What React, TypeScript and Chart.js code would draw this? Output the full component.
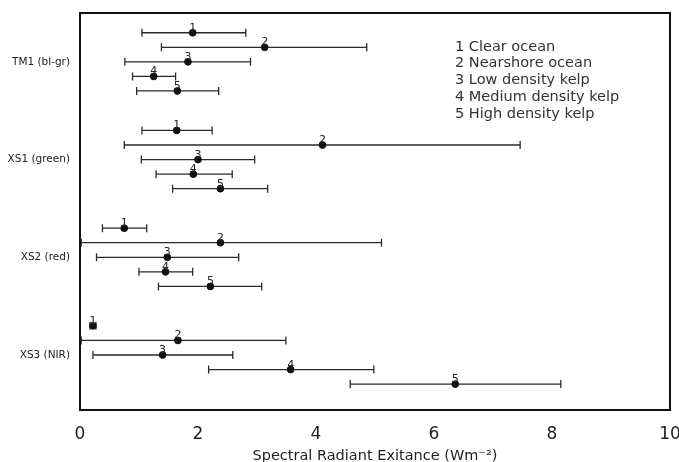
import { useEffect, useRef } from "react";
import { Chart, registerables } from "chart.js";

Chart.register(...registerables);

const bands = ["TM1 (bl-gr)", "XS1 (green)", "XS2 (red)", "XS3 (NIR)"];
const classNames = ["Clear ocean", "Nearshore ocean", "Low density kelp", "Medium density kelp", "High density kelp"];

// per class, values for each band (TM1, XS1, XS2, XS3)
const clearMean = [1.91, 1.64, 0.75, 0.22];
const clearLow = [1.05, 1.05, 0.38, 0.17];
const clearHigh = [2.81, 2.24, 1.13, 0.27];

const nearshoreMean = [3.13, 4.11, 2.38, 1.66];
const nearshoreLow = [1.38, 0.75, 0.02, 0.02];
const nearshoreHigh = [4.86, 7.46, 5.11, 3.49];

const lowKelpMean = [1.83, 2.0, 1.48, 1.4];
const lowKelpLow = [0.76, 1.04, 0.28, 0.22];
const lowKelpHigh = [2.89, 2.96, 2.69, 2.59];

const medKelpMean = [1.25, 1.92, 1.45, 3.57];
const medKelpLow = [0.89, 1.29, 1.0, 2.18];
const medKelpHigh = [1.62, 2.58, 1.91, 4.98];

const highKelpMean = [1.65, 2.38, 2.21, 6.36];
const highKelpLow = [0.96, 1.57, 1.33, 4.58];
const highKelpHigh = [2.35, 3.18, 3.08, 8.15];

const xTicks = [0, 2, 4, 6, 8, 10];

const means = [clearMean, nearshoreMean, lowKelpMean, medKelpMean, highKelpMean];
const lows = [clearLow, nearshoreLow, lowKelpLow, medKelpLow, highKelpLow];
const highs = [clearHigh, nearshoreHigh, lowKelpHigh, medKelpHigh, highKelpHigh];

const ROW = 0.149; // spacing between class rows inside a band group
const FONT = "'DejaVu Sans', sans-serif";

export default function App() {
  const ref = useRef<HTMLCanvasElement | null>(null);

  useEffect(() => {
    if (!ref.current) return;

    const errorBars = {
      id: "errorBars",
      beforeDatasetsDraw(chart: any) {
        const ctx = chart.ctx;
        const xs = chart.scales.x;
        ctx.save();
        ctx.strokeStyle = "#2a2a2a";
        ctx.lineWidth = 1.3;
        chart.data.datasets.forEach((_: any, c: number) => {
          const meta = chart.getDatasetMeta(c);
          meta.data.forEach((pt: any, i: number) => {
            const y = pt.y;
            const xl = xs.getPixelForValue(lows[c][i]);
            const xh = xs.getPixelForValue(highs[c][i]);
            ctx.beginPath();
            ctx.moveTo(xl, y);
            ctx.lineTo(xh, y);
            ctx.moveTo(xl, y - 4);
            ctx.lineTo(xl, y + 4);
            ctx.moveTo(xh, y - 4);
            ctx.lineTo(xh, y + 4);
            ctx.stroke();
          });
        });
        ctx.restore();
      },
      afterDatasetsDraw(chart: any) {
        const ctx = chart.ctx;
        const a = chart.chartArea;
        ctx.save();
        ctx.fillStyle = "#222";
        ctx.font = `11px ${FONT}`;
        ctx.textAlign = "center";
        ctx.textBaseline = "alphabetic";
        chart.data.datasets.forEach((_: any, c: number) => {
          const meta = chart.getDatasetMeta(c);
          meta.data.forEach((pt: any) => {
            ctx.fillText(String(c + 1), pt.x, pt.y - 2);
          });
        });
        // frame
        ctx.strokeStyle = "#111";
        ctx.lineWidth = 2;
        ctx.strokeRect(a.left, a.top, a.right - a.left, a.bottom - a.top);
        // legend
        ctx.fillStyle = "#333";
        ctx.font = `14.5px ${FONT}`;
        ctx.textAlign = "left";
        ctx.textBaseline = "middle";
        classNames.forEach((n, i) => {
          ctx.fillText(`${i + 1} ${n}`, 455, 47 + i * 16.7);
        });
        ctx.restore();
      },
    };

    const chart = new Chart(ref.current, {
      type: "scatter",
      data: {
        datasets: classNames.map((n, c) => ({
          label: n,
          data: bands.map((_, i) => ({ x: means[c][i], y: i + (c - 2) * ROW })),
          backgroundColor: "#111",
          borderColor: "#111",
          pointRadius: 3.4,
          pointHoverRadius: 3.4,
        })),
      },
      options: {
        responsive: false,
        animation: false,
        layout: { padding: { left: 0, top: 13, right: 9, bottom: 0 } },
        plugins: { legend: { display: false }, tooltip: { enabled: false } },
        scales: {
          x: {
            type: "linear",
            min: 0,
            max: 10,
            afterBuildTicks: (s: any) => {
              s.ticks = xTicks.map((v) => ({ value: v }));
            },
            grid: { display: false },
            border: { display: false },
            ticks: { color: "#222", padding: 6, font: { family: FONT, size: 17 } },
            title: {
              display: true,
              text: "Spectral Radiant Exitance (Wm⁻²)",
              color: "#222",
              font: { family: FONT, size: 14.5 },
              padding: { top: 0, bottom: -3 },
            },
            afterFit: (s: any) => {
              s.height = 52;
              s.paddingLeft = 0;
              s.paddingRight = 0;
            },
          },
          y: {
            type: "linear",
            reverse: true,
            min: -0.5,
            max: 3.563,
            afterBuildTicks: (s: any) => {
              s.ticks = bands.map((_, i) => ({ value: i }));
            },
            grid: { display: false },
            border: { display: false },
            ticks: {
              color: "#222",
              padding: 2,
              font: { family: FONT, size: 10.5 },
              callback: (v: any) => bands[Math.round(Number(v))] ?? "",
            },
            afterFit: (s: any) => {
              s.width = 80;
              s.paddingTop = 0;
              s.paddingBottom = 0;
            },
          },
        },
      },
      plugins: [errorBars],
    });

    return () => chart.destroy();
  }, []);

  return (
    <div style={{ position: "fixed", left: 0, top: 0, width: 679, height: 462, background: "#fff" }}>
      <canvas ref={ref} width={679} height={462} />
    </div>
  );
}
